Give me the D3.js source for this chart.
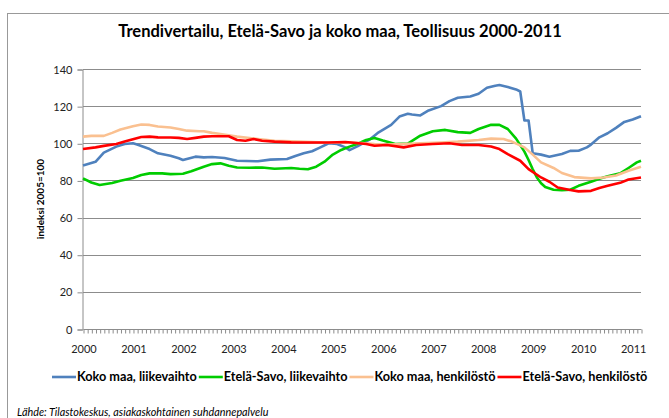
<!DOCTYPE html>
<html>
<head>
<meta charset="utf-8">
<script src="https://cdn.jsdelivr.net/npm/d3@7"></script>
<style>
  body { margin: 0; background: #fff; }
  svg { display: block; font-family: Lato, "Open Sans", sans-serif; }
</style>
</head>
<body>
<div id="vis"></div>
<script>
// month index 0 = Jan 2000, 134 = Mar 2011
const yearLabels = ["2000","2001","2002","2003","2004","2005","2006","2007","2008","2009","2010","2011"];
const yTicks = [0, 20, 40, 60, 80, 100, 120, 140];

const kokoLiikevaihto = [
  [0,88],[3,90],[5,95],[8,98.2],[10,99.6],[12,100],[13,99.3],[16,96.9],[18,94.6],[21,93.3],
  [23,91.9],[24,91],[27,92.8],[29,92.4],[31,92.6],[34,92.1],[37,90.6],[42,90.3],[45,91.2],
  [49,91.5],[51,93.2],[53,94.6],[55,95.7],[57,97.8],[59,100],[61,99.6],[63,97.8],[64,96.3],
  [66,98.5],[69,102.3],[71,105.9],[74,109.9],[76,114.4],[78,115.9],[79,115.5],[81,115],
  [83,117.7],[86,120],[88,122.7],[90,124.5],[93,125.2],[95,126.7],[97,129.9],[99,131],
  [100,131.4],[102,130.3],[104,129],[105,127.9],[106,112.3],[107,112.3],[108,94.6],[110,93.9],
  [112,92.8],[115,94.2],[117,95.9],[119,96],[121,97.8],[122,99.3],[124,103.2],[126,105.4],
  [128,108.3],[130,111.5],[132,112.8],[134,114.6]
];
const savoLiikevaihto = [
  [0,81.1],[2,78.9],[4,77.5],[7,78.6],[9,79.8],[12,81.3],[14,82.9],[16,83.8],[19,83.8],[21,83.4],
  [24,83.6],[26,84.9],[29,87.4],[31,88.8],[33,89.2],[35,87.9],[37,87],[40,86.8],[43,87],[46,86.3],
  [50,86.7],[52,86.3],[54,86],[56,87.4],[58,90.1],[60,93.9],[62,96.4],[64,98.2],[66,99.8],
  [68,101.8],[70,102.9],[72,101.5],[75,99.6],[78,99.8],[81,104.1],[84,106.5],[87,107.2],[90,106],
  [93,105.6],[95,107.7],[98,110],[100,109.9],[102,107.7],[104,102.5],[106,95.5],[107,91],[108,86],
  [109,81.6],[110,78.5],[111,76.5],[113,75],[115,74.8],[117,75],[119,77.1],[122,79.3],[124,80.9],
  [126,82.2],[129,83.8],[131,86.7],[133,89.7],[134,90.6]
];
const kokoHenkilosto = [
  [0,103.6],[2,104],[5,104],[7,105.6],[9,107.4],[12,109.2],[14,110.1],[16,109.9],[18,109],[21,108.5],
  [23,107.7],[25,106.8],[28,106.5],[29,106.5],[31,105.6],[33,105],[37,103.6],[42,102.3],[46,101.4],
  [52,100.9],[58,100.4],[63,100.5],[66,100.2],[70,99.6],[73,99.3],[77,99.6],[81,100],[86,100.4],
  [90,100.9],[95,101.8],[98,102.5],[101,102.3],[103,100.9],[106,97.8],[108,93.9],[110,89.7],
  [113,86.7],[115,84],[118,81.8],[122,81.1],[125,81.6],[128,82.7],[131,85.2],[134,87.4]
];
const savoHenkilosto = [
  [0,96.9],[3,97.8],[5,98.6],[8,99.6],[10,100.9],[12,102.2],[14,103.4],[16,103.6],[18,103.2],[21,103.1],
  [23,102.9],[25,102.3],[27,102.9],[29,103.6],[31,103.8],[33,103.8],[35,103.8],[37,101.8],[39,101.4],
  [41,102.3],[43,101.4],[46,100.9],[50,100.5],[54,100.4],[59,100.4],[63,100.7],[65,100.3],[68,99.6],
  [70,98.7],[73,99.1],[77,97.8],[80,99.1],[84,99.6],[88,100],[91,99.1],[95,99.1],[98,98.3],[100,96.9],
  [102,94.2],[105,90.6],[107,86.1],[110,81.6],[112,79.3],[114,76.2],[117,74.8],[119,74.1],[122,74.4],
  [124,75.9],[126,77.1],[129,78.7],[131,80.5],[134,81.6]
];

const series = [
  { name: "Koko maa, liikevaihto", color: "#4F81BD", values: kokoLiikevaihto },
  { name: "Etelä-Savo, liikevaihto", color: "#00CC00", values: savoLiikevaihto },
  { name: "Koko maa, henkilöstö", color: "#FAC090", values: kokoHenkilosto },
  { name: "Etelä-Savo, henkilöstö", color: "#FF0000", values: savoHenkilosto }
];

const width = 669, height = 418;
const svg = d3.select("#vis").append("svg")
  .attr("width", width)
  .attr("height", height);

// outer chart frame
svg.append("rect")
  .attr("x", 7.5).attr("y", 13.5)
  .attr("width", 700).attr("height", 450)
  .attr("fill", "none")
  .attr("stroke", "#999")
  .attr("stroke-width", 1);

const x = d3.scaleLinear().domain([0, 134]).range([83, 641]);
const y = d3.scaleLinear().domain([0, 140]).range([329, 69]);

// title
svg.append("text")
  .attr("x", 340).attr("y", 37)
  .attr("text-anchor", "middle")
  .style("font-size", "16.5px")
  .style("font-weight", "bold")
  .text("Trendivertailu, Etelä-Savo ja koko maa, Teollisuus 2000-2011");

// horizontal gridlines
svg.append("g")
  .selectAll("line")
  .data(yTicks.filter(d => d > 0))
  .enter()
  .append("line")
  .attr("x1", x(0)).attr("x2", x(134))
  .attr("y1", d => Math.round(y(d)) + 0.5)
  .attr("y2", d => Math.round(y(d)) + 0.5)
  .attr("stroke", "#8c8c8c")
  .attr("stroke-width", 1);

// y axis
const yAxis = svg.append("g")
  .attr("transform", `translate(${x(0) - 0.5},0.5)`)
  .call(d3.axisLeft(y).tickValues(yTicks).tickSize(5).tickPadding(5));
yAxis.selectAll("path, line").attr("stroke", "#8c8c8c");
yAxis.selectAll("text").style("font-size", "11px").style("font-family", "Lato, sans-serif").attr("fill", "#222");

// x axis: a tick each month, label each January
const xAxis = svg.append("g")
  .attr("transform", `translate(0.5,${Math.round(y(0)) + 0.5})`)
  .call(d3.axisBottom(x).tickValues(d3.range(0, 135)).tickSize(4).tickFormat(""));
xAxis.selectAll("path").attr("stroke", "#8c8c8c");
xAxis.selectAll("line").attr("stroke", "#8c8c8c");
xAxis.select(".domain").attr("d", `M${x(0)},0H${x(134)}`);

svg.append("g")
  .selectAll("text")
  .data(yearLabels)
  .enter()
  .append("text")
  .attr("x", (d, i) => x(i * 12) + 1)
  .attr("y", 353)
  .attr("text-anchor", "middle")
  .style("font-size", "11px")
  .attr("fill", "#222")
  .text(d => d);

// y axis title
svg.append("text")
  .attr("transform", "translate(44,199) rotate(-90)")
  .attr("text-anchor", "middle")
  .style("font-size", "10px")
  .style("font-weight", "bold")
  .text("indeksi 2005=100");

// series lines
const line = d3.line()
  .x(d => x(d[0]))
  .y(d => y(d[1]));

svg.append("g")
  .selectAll("path")
  .data(series)
  .enter()
  .append("path")
  .attr("d", d => line(d.values))
  .attr("fill", "none")
  .attr("stroke", d => d.color)
  .attr("stroke-width", 2.6)
  .attr("stroke-linejoin", "round");

// legend
const legend = svg.append("g");
let lx = 52;
series.forEach(s => {
  legend.append("line")
    .attr("x1", lx).attr("x2", lx + 24)
    .attr("y1", 377).attr("y2", 377)
    .attr("stroke", s.color)
    .attr("stroke-width", 2.6);
  const t = legend.append("text")
    .attr("x", lx + 25).attr("y", 381)
    .style("font-size", "12.7px")
    .style("font-weight", "bold")
    .text(s.name);
  lx += 25 + t.node().getComputedTextLength() + 2;
});

// source
svg.append("text")
  .attr("x", 17).attr("y", 416)
  .style("font-size", "10.8px")
  .style("font-style", "italic")
  .text("Lähde: Tilastokeskus, asiakaskohtainen suhdannepalvelu");
</script>
</body>
</html>
